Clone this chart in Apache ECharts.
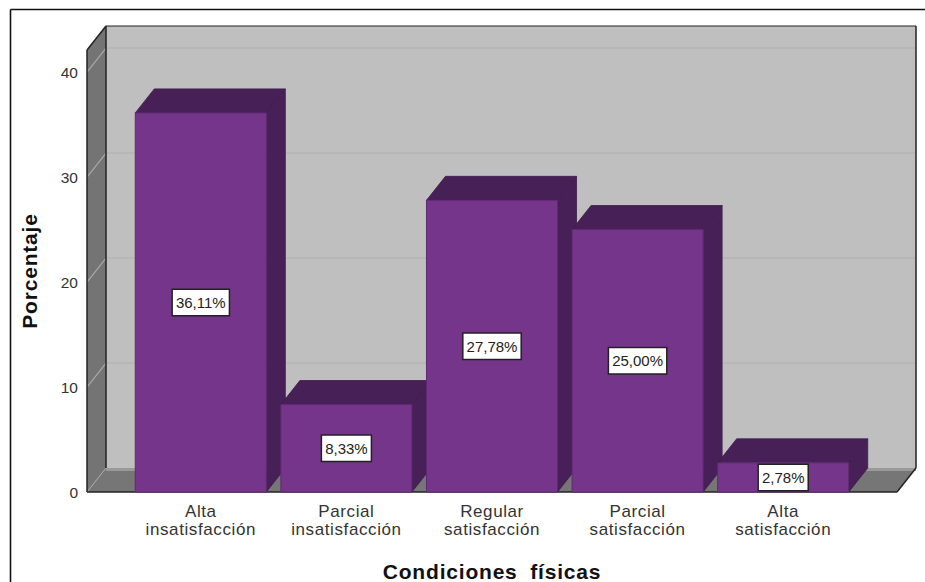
<!DOCTYPE html>
<html>
<head>
<meta charset="utf-8">
<style>
html,body{margin:0;padding:0;background:#fff}
#chart{width:925px;height:582px}
/* Tracking of the category labels and the two axis titles */
#chart text[style*="17px"]{letter-spacing:0.6px}
#chart text[style*="21px"]{letter-spacing:0.8px;word-spacing:6px}
</style>
<script src="https://cdn.jsdelivr.net/npm/echarts@6/dist/echarts.min.js"></script>
</head>
<body>
<div id="chart"></div>
<script>
// Satisfaction with physical conditions, percentage per response level
const categories = ['Alta\ninsatisfacción', 'Parcial\ninsatisfacción', 'Regular\nsatisfacción', 'Parcial\nsatisfacción', 'Alta\nsatisfacción'];
const percentages = [36.11, 8.33, 27.78, 25.00, 2.78];
const gridValues = [10, 20, 30, 40];
const axisTop = 42.1;

// Pseudo-3D depth of the box and the bars
const DX = 19, DY = -24;
const WALL_INSET = 41;
const FONT = '"Liberation Sans", Arial, sans-serif';

const chart = echarts.init(document.getElementById('chart'), null, { renderer: 'svg' });

function poly(points, fill, stroke, lineWidth) {
  return { type: 'polygon', shape: { points }, style: { fill, stroke: stroke || null, lineWidth: lineWidth || 1 } };
}
function seg(x1, y1, x2, y2, stroke, lineWidth) {
  return { type: 'line', shape: { x1, y1, x2, y2 }, style: { stroke, lineWidth: lineWidth || 1 } };
}

// Back wall, left wall, floor and their grid lines
function renderBox(params, api) {
  const r = params.coordSys;
  const xL = r.x - WALL_INSET, xR = r.x + r.width + WALL_INSET;
  const y0 = api.coord([0, 0])[1], yT = api.coord([0, axisTop])[1];
  const kids = [
    poly([[xL + DX, yT + DY], [xR + DX, yT + DY], [xR + DX, y0 + DY], [xL + DX, y0 + DY]], '#bfbfbf'),
    poly([[xL, yT], [xL + DX, yT + DY], [xL + DX, y0 + DY], [xL, y0]], '#747474'),
    poly([[xL, y0], [xL + DX, y0 + DY], [xR + DX, y0 + DY], [xR, y0]], '#767676'),
    seg(xL + DX, y0 + DY + 1.5, xR + DX, y0 + DY + 1.5, '#999999', 3)
  ];
  gridValues.forEach(v => {
    const y = api.coord([0, v])[1];
    kids.push(seg(xL, y, xL + DX, y + DY, '#a8a8a8', 1.2));
    kids.push(seg(xL + DX, y + DY, xR + DX, y + DY, '#b5b5b5', 1.5));
  });
  kids.push(seg(xL + DX, y0 + DY, xL, y0, '#a8a8a8', 1));
  const edge = '#222222';
  kids.push(seg(xL, yT, xL + DX, yT + DY, edge, 1.5));
  kids.push(seg(xL + DX, yT + DY, xR + DX, yT + DY, edge, 1.2));
  kids.push(seg(xL + DX, yT + DY, xL + DX, y0 + DY, edge, 1.5));
  kids.push(seg(xR + DX, yT + DY, xR + DX, y0 + DY, edge, 1.5));
  kids.push(seg(xL, yT, xL, y0, edge, 1.5));
  kids.push(seg(xR + DX, y0 + DY, xR, y0, edge, 1.5));
  kids.push(seg(xL, y0, xR, y0, edge, 1.5));
  return { type: 'group', children: kids };
}

// One extruded bar: front face, top, right side, and its value box
function renderBar(params, api) {
  const i = api.value(0), v = api.value(1);
  const top = api.coord([i, v]), base = api.coord([i, 0]);
  const w = api.size([1, 0])[0] * 0.9;
  const x0 = top[0] - w / 2, x1 = top[0] + w / 2;
  const y0 = base[1], y1 = top[1];
  const dark = '#482058', line = '#3d1a4c';
  return {
    type: 'group',
    children: [
      poly([[x0, y1], [x0 + DX, y1 + DY], [x1 + DX, y1 + DY], [x1, y1]], dark, line, 0.8),
      poly([[x1, y1], [x1 + DX, y1 + DY], [x1 + DX, y0 + DY], [x1, y0]], dark, line, 0.8),
      poly([[x0, y0], [x0, y1], [x1, y1], [x1, y0]], '#75358a', '#5f2a72', 1),
      {
        type: 'text',
        x: top[0], y: (y0 + y1) / 2,
        style: {
          text: v.toFixed(2).replace('.', ',') + '%',
          font: '15px ' + FONT,
          fill: '#222',
          align: 'center', verticalAlign: 'middle',
          backgroundColor: '#fff',
          borderColor: '#222',
          borderWidth: 1.5,
          padding: [5, 3, 5, 3]
        }
      }
    ]
  };
}

chart.setOption({
  animation: false,
  backgroundColor: '#fff',
  grid: { left: 128, width: 728, top: 50, height: 442, outerBoundsMode: 'none' },
  xAxis: {
    type: 'category',
    data: categories,
    name: 'Condiciones físicas',
    nameLocation: 'middle',
    nameGap: 69,
    nameTextStyle: { fontFamily: FONT, fontSize: 21, fontWeight: 'bold', color: '#111' },
    axisLine: { show: false },
    axisTick: { show: false },
    axisLabel: { fontFamily: FONT, fontSize: 17, color: '#333', margin: 10, lineHeight: 18, interval: 0 }
  },
  yAxis: {
    type: 'value',
    min: 0,
    max: axisTop,
    interval: 10,
    name: 'Porcentaje',
    nameLocation: 'middle',
    nameGap: 88,
    nameTextStyle: { fontFamily: FONT, fontSize: 21, fontWeight: 'bold', color: '#111' },
    axisLine: { show: false },
    axisTick: { show: false },
    splitLine: { show: false },
    axisLabel: { fontFamily: FONT, fontSize: 15.5, color: '#333', margin: 50, showMaxLabel: false }
  },
  graphic: [
    { type: 'line', shape: { x1: 10.5, y1: 9.5, x2: 925, y2: 9.5 }, style: { stroke: '#111', lineWidth: 1.6 } },
    { type: 'line', shape: { x1: 10.5, y1: 9.5, x2: 10.5, y2: 582 }, style: { stroke: '#111', lineWidth: 1.6 } }
  ],
  series: [
    { type: 'custom', coordinateSystem: 'cartesian2d', data: [[0, 0]], renderItem: renderBox, silent: true, z: 1 },
    {
      type: 'custom',
      coordinateSystem: 'cartesian2d',
      encode: { x: 0, y: 1 },
      data: percentages.map((v, i) => [i, v]),
      renderItem: renderBar,
      z: 2
    }
  ]
});
</script>
</body>
</html>
